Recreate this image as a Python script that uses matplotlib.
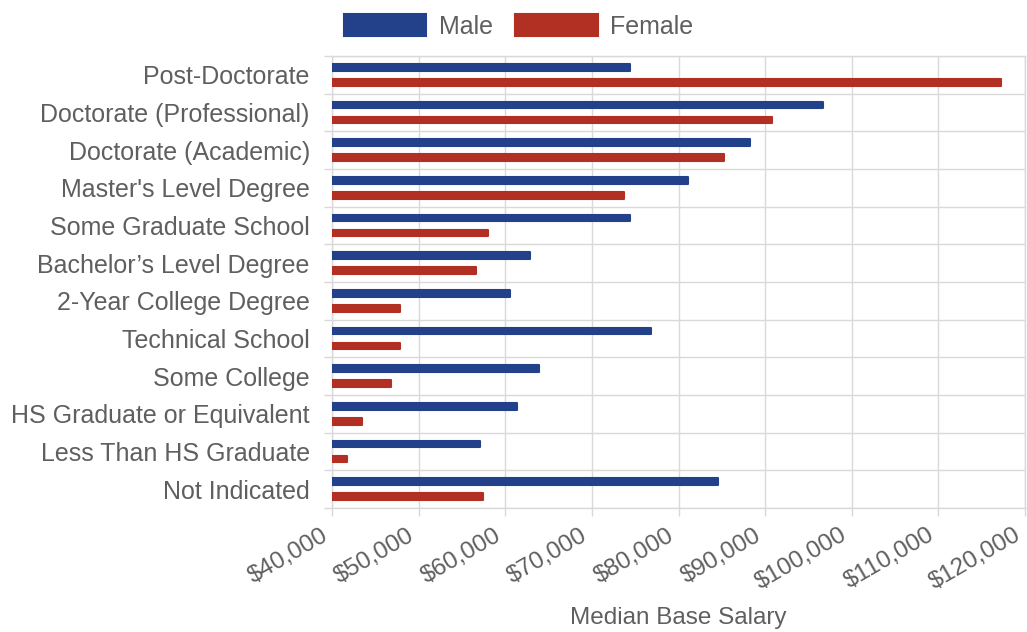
import numpy as np
import matplotlib
matplotlib.use("Agg")
import matplotlib.pyplot as plt
import matplotlib.transforms as mtrans
from matplotlib.ticker import FuncFormatter

categories = ["Post-Doctorate", "Doctorate (Professional)", "Doctorate (Academic)",
              "Master's Level Degree", "Some Graduate School", "Bachelor\u2019s Level Degree",
              "2-Year College Degree", "Technical School", "Some College",
              "HS Graduate or Equivalent", "Less Than HS Graduate", "Not Indicated"]
male = [74400, 96700, 88200, 81100, 74400, 62800, 60500, 76800, 63900, 61300, 57100, 84600]
female = [117200, 90800, 85300, 73700, 58000, 56600, 47900, 47800, 46800, 43500, 41700, 57400]
x_ticks = [40000, 50000, 60000, 70000, 80000, 90000, 100000, 110000, 120000]

blue = "#22418a"
red = "#b23023"
grid_c = "#d9d9d9"
text_c = "#5f5f5f"

plt.rcParams['font.family'] = ['Liberation Sans', 'DejaVu Sans']

fig = plt.figure(figsize=(10.27, 6.32), dpi=100)
ax = fig.add_axes([332 / 1027, 1 - 508 / 632, (1025 - 332) / 1027, (508 - 56) / 632])

y = np.arange(len(categories))
h = 0.18
off = 0.2
ax.barh(y - off, np.array(male) - 40000, left=40000, height=h, color=blue,
        edgecolor=blue, linewidth=1.5, joinstyle='round', label='Male', zorder=3)
ax.barh(y + off, np.array(female) - 40000, left=40000, height=h, color=red,
        edgecolor=red, linewidth=1.5, joinstyle='round', label='Female', zorder=3)

ax.set_xlim(40000, 120000)
ax.set_ylim(len(categories) - 0.5, -0.5)
ax.set_yticks(y)
ax.set_yticklabels(categories)
ax.set_xticks(x_ticks)
ax.set_xticklabels([])

# rotated x tick labels, anchored at the baseline end so the last one stays inside
fmt = FuncFormatter(lambda v, p: "${:,.0f}".format(v))
lab_tr = ax.get_xaxis_transform() + mtrans.ScaledTranslation(-3 / 100, -31 / 100, fig.dpi_scale_trans)
for v in x_ticks:
    ax.text(v, 0, fmt(v), transform=lab_tr, rotation=30, rotation_mode='anchor',
            ha='right', va='baseline', fontsize=17.5, color=text_c, clip_on=False)

# row separators and vertical grid
ax.set_yticks(np.arange(len(categories) + 1) - 0.5, minor=True)
ax.grid(axis='y', which='minor', color=grid_c, linewidth=1.0, zorder=0)
ax.grid(axis='x', which='major', color=grid_c, linewidth=1.0, zorder=0)
ax.tick_params(axis='y', which='major', length=0, labelsize=18, labelcolor=text_c, pad=16)
ax.tick_params(axis='y', which='minor', length=6, color=grid_c, width=1.0)
ax.tick_params(axis='x', which='major', length=6, color=grid_c, width=1.0)
for s in ax.spines.values():
    s.set_color(grid_c)
    s.set_linewidth(1.0)

ax.text(0.5, -0.2434, "Median Base Salary", transform=ax.transAxes, ha='center', va='center',
        fontsize=17.5, color=text_c)

fig.legend(loc='upper center', bbox_to_anchor=(0.505, 1.013), ncol=2, frameon=False,
           fontsize=18, handlelength=3.3, handleheight=0.95, columnspacing=0.9,
           handletextpad=0.5, labelcolor=text_c)

fig.savefig("out.png", dpi=100)
